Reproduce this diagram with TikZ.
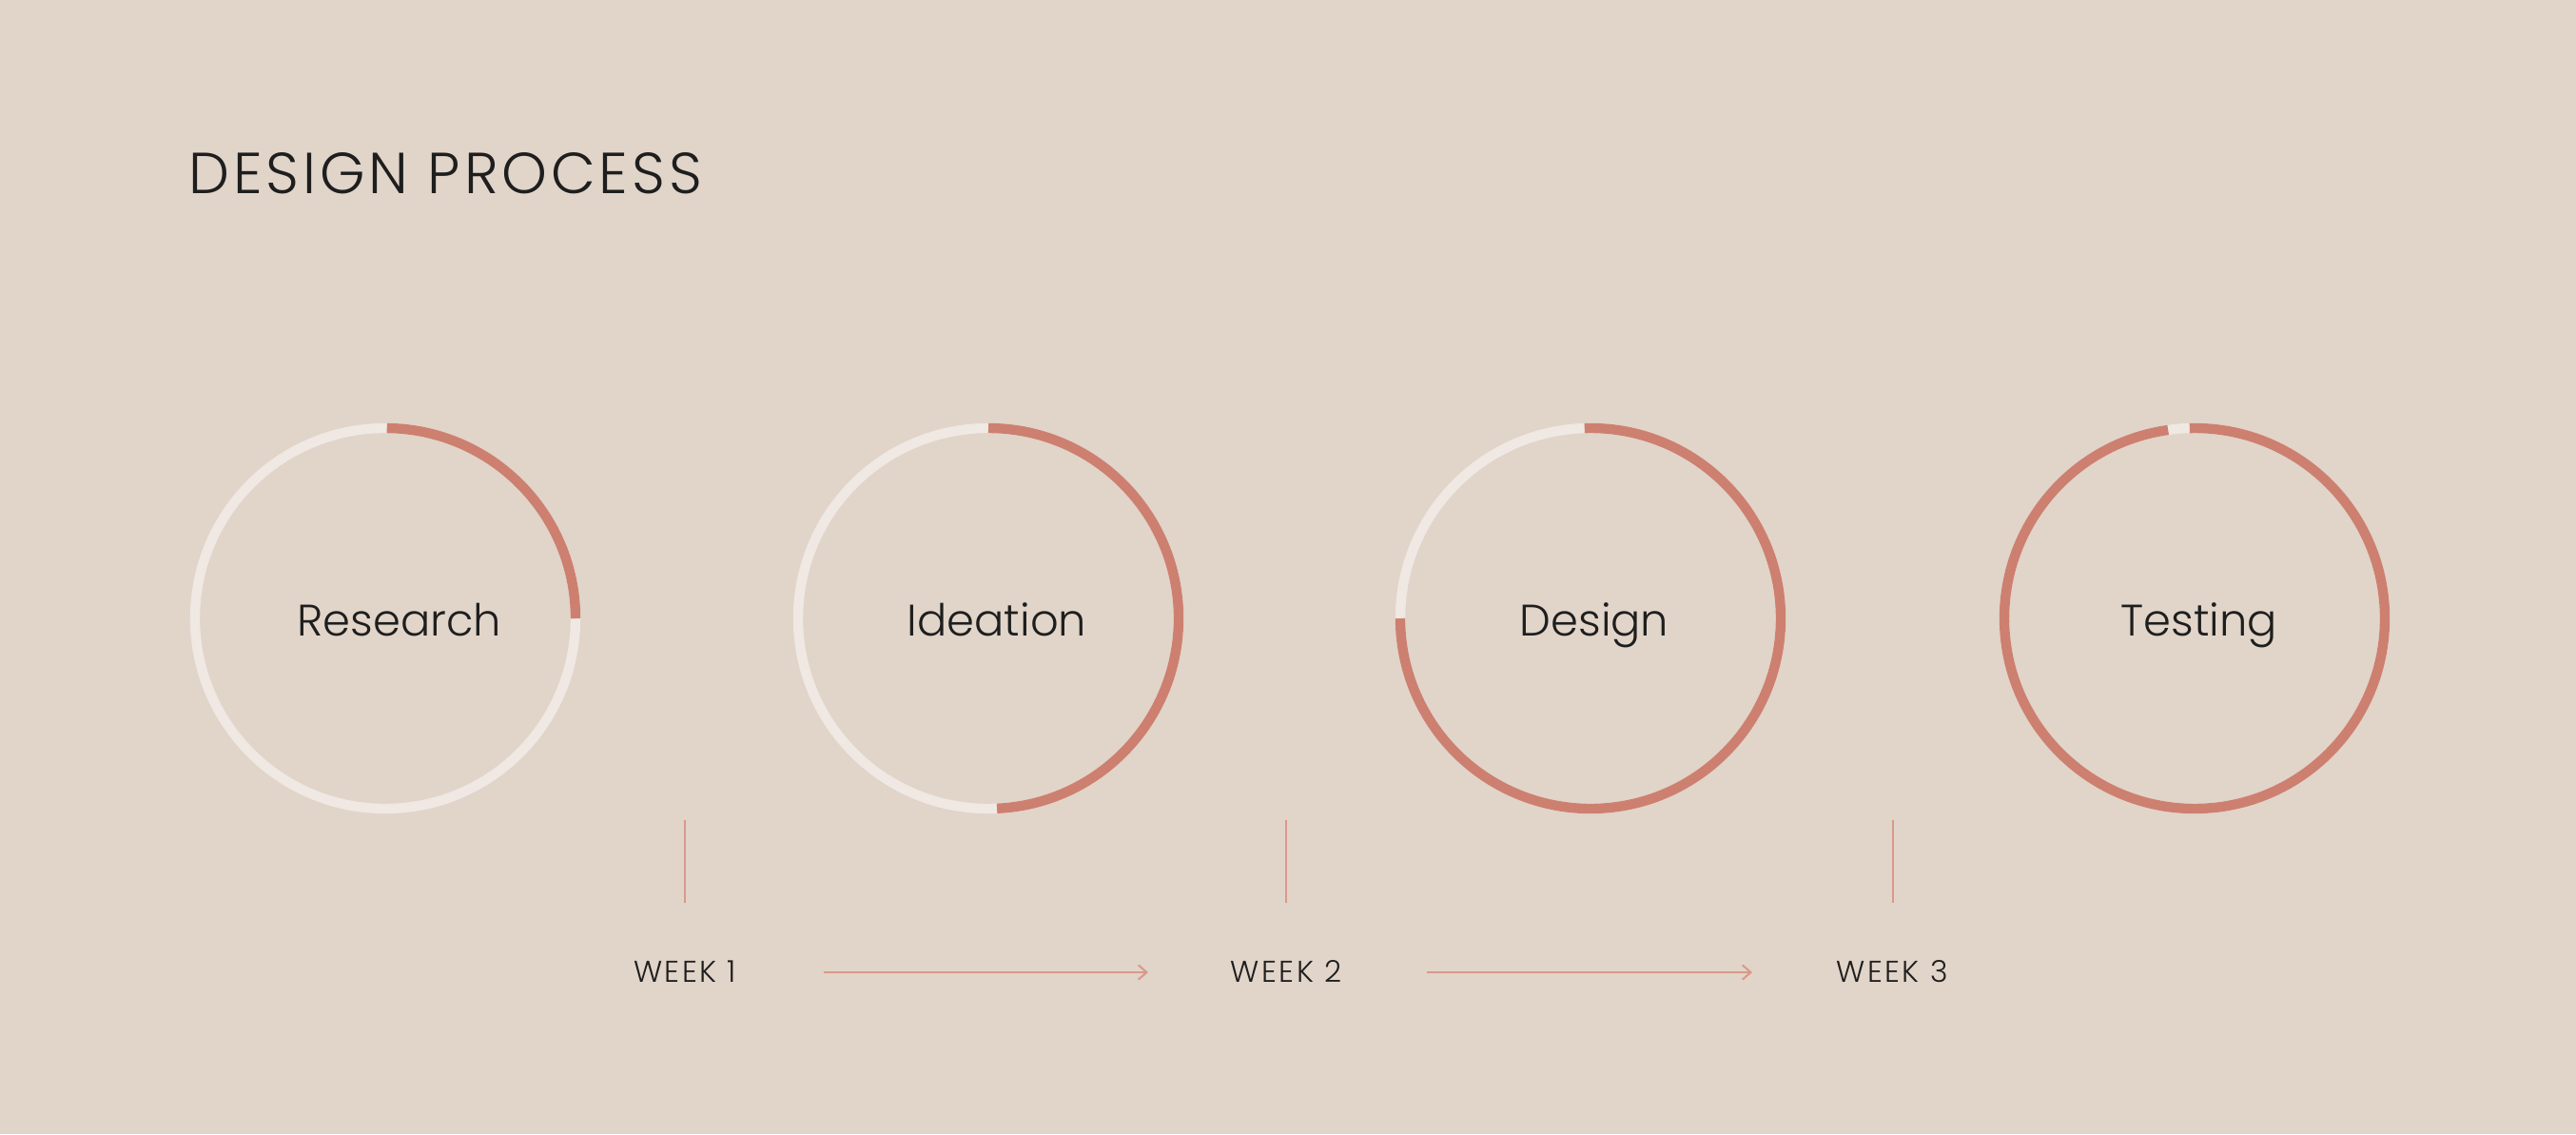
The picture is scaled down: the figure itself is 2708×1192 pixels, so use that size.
\documentclass[tikz,border=0pt]{standalone}
\usepackage{fontspec}
\IfFontExistsTF{Poppins Light}{\setmainfont{Poppins Light}}{\setmainfont{Poppins}}
\usetikzlibrary{arrows.meta}
\definecolor{bgc}{HTML}{E1D4C9}
\definecolor{redc}{HTML}{CD8070}
\definecolor{trackc}{HTML}{EFE8E3}
\definecolor{linec}{HTML}{D9998A}
\definecolor{inkc}{HTML}{1E1E1E}
\tikzset{
  ring/.style={draw=none, circle, minimum size=100pt, inner sep=0},
  track/.style={draw=trackc, line width=2.6pt},
  prog/.style={draw=redc, line width=2.6pt},
  lbl/.style={text=inkc, inner sep=0, anchor=base, font=\fontsize{11.6}{14}\selectfont},
  week/.style={text=inkc, inner sep=0, font=\fontsize{7.9}{9}\selectfont\addfontfeatures{LetterSpace=8}},
  tick/.style={draw=linec, line width=0.5pt},
  arr/.style={draw=linec, line width=0.5pt, -{Straight Barb[length=2.2pt,width=3.8pt]}},
}
\begin{document}
\begin{tikzpicture}[x=0.25pt,y=0.25pt]
\fill[bgc] (0,0) rectangle (2708,1192);
\useasboundingbox (0,0) rectangle (2708,1192);
% title
\node[anchor=base west, inner sep=0, text=inkc, font=\fontsize{15.2}{18}\selectfont\addfontfeatures{LetterSpace=6.3}] (title) at (198,989) {DESIGN PROCESS};
% rings
\node[ring] (research) at (405,542) {};
\node[ring] (ideation) at (1039,542) {};
\node[ring] (design) at (1672,542) {};
\node[ring] (testing) at (2307,542) {};
% research
\draw[track] (research.center) circle[radius=50pt];
\draw[prog] ([shift={(89.5:50pt)}]research.center) arc[start angle=89.5,end angle=0,radius=50pt];
% ideation
\draw[track] (ideation.center) circle[radius=50pt];
\draw[prog] ([shift={(90:50pt)}]ideation.center) arc[start angle=90,end angle=-87.4,radius=50pt];
% design
\draw[track] (design.center) circle[radius=50pt];
\draw[prog] ([shift={(91.8:50pt)}]design.center) arc[start angle=91.8,end angle=-180,radius=50pt];
% testing
\draw[track] (testing.center) circle[radius=50pt];
\draw[prog] ([shift={(91.5:50pt)}]testing.center) arc[start angle=91.5,end angle=-262,radius=50pt];
% labels
\node[lbl] (researchlbl) at (420,524) {Research};
\node[lbl] (ideationlbl) at (1048,524) {Ideation};
\node[lbl] (designlbl) at (1676,524) {Design};
\node[lbl] (testinglbl) at (2312,524) {Testing};
% ticks
\coordinate (t1a) at (720,330); \coordinate (t1b) at (720,243);
\coordinate (t2a) at (1352,330); \coordinate (t2b) at (1352,243);
\coordinate (t3a) at (1990,330); \coordinate (t3b) at (1990,243);
\draw[tick] (t1a) -- (t1b);
\draw[tick] (t2a) -- (t2b);
\draw[tick] (t3a) -- (t3b);
% weeks
\node[week] (w1) at (720,171) {WEEK 1};
\node[week] (w2) at (1352,171) {WEEK 2};
\node[week] (w3) at (1989,171) {WEEK 3};
\coordinate (a1s) at (866,170); \coordinate (a1e) at (1207,170);
\coordinate (a2s) at (1500,170); \coordinate (a2e) at (1842,170);
\draw[arr] (a1s) -- (a1e);
\draw[arr] (a2s) -- (a2e);
\end{tikzpicture}
\end{document}
